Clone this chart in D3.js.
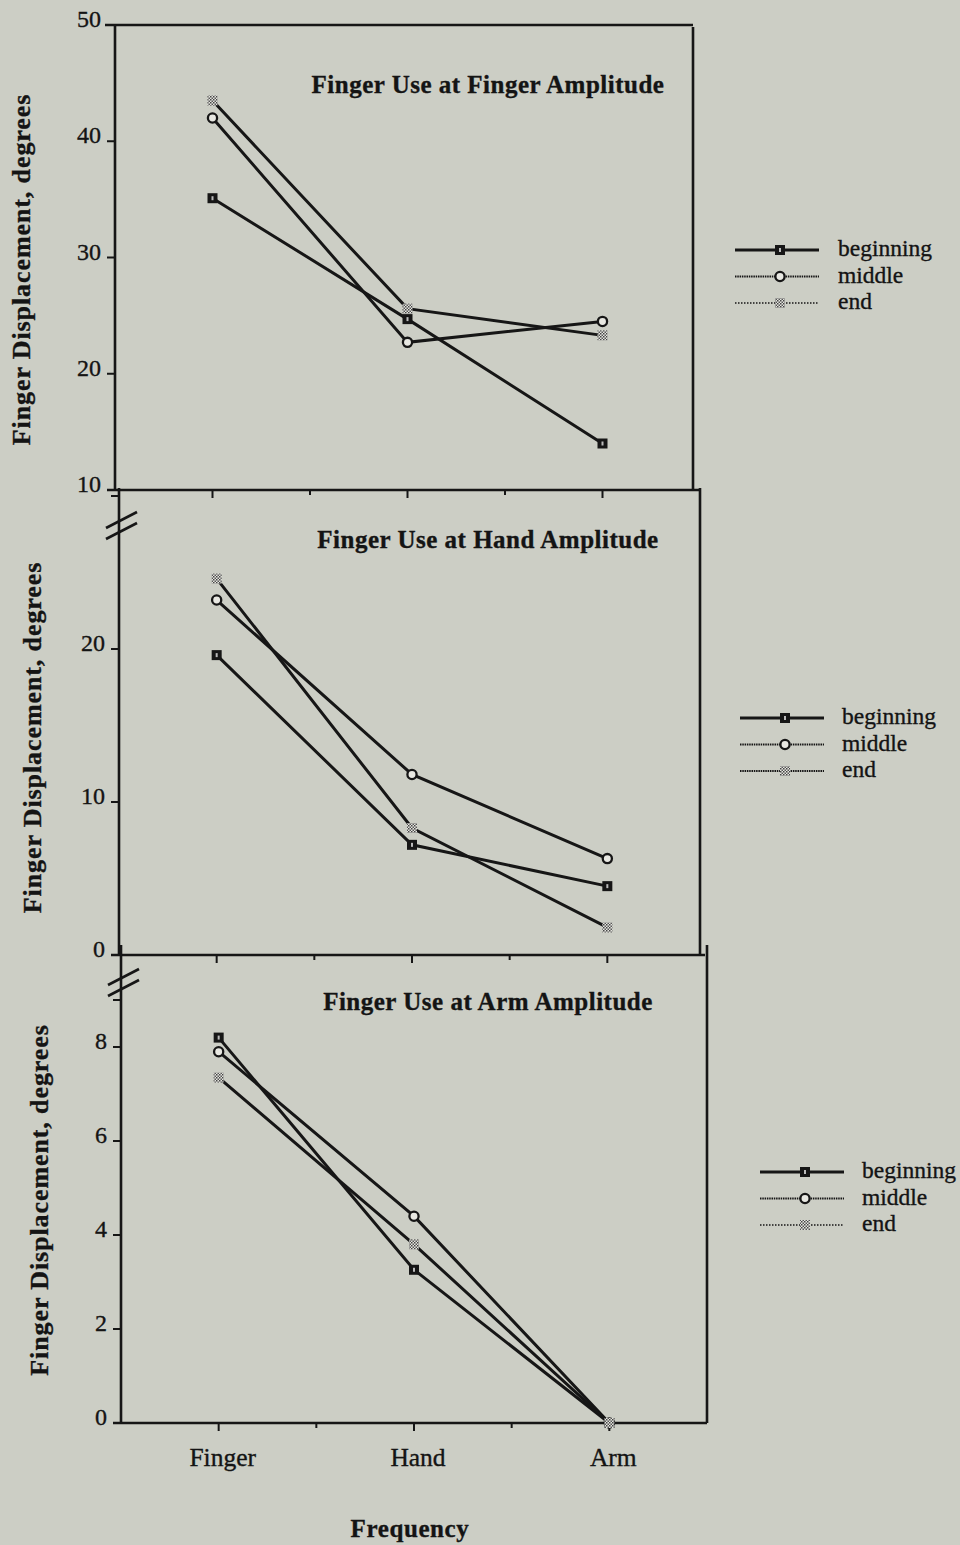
<!DOCTYPE html>
<html>
<head>
<meta charset="utf-8">
<script src="https://cdn.jsdelivr.net/npm/d3@7"></script>
<style>
  body { margin: 0; background: #cccec5; }
  svg text { font-family: "Liberation Serif", "Times New Roman", serif; fill: #141414; stroke: #141414; stroke-width: 0.35px; }
  .tick-label { font-size: 24px; }
  .x-label { font-size: 25.5px; }
  .title { font-size: 25px; font-weight: bold; letter-spacing: 0.5px; }
  .ylabel { font-size: 26px; font-weight: bold; letter-spacing: 0.9px; }
  .legend-text { font-size: 23.5px; }
</style>
</head>
<body>
<svg id="chart" width="960" height="1545"></svg>
<script>
"use strict";

// x categories (movement frequency)
var categories = ["Finger", "Hand", "Arm"];
var seriesNames = ["beginning", "middle", "end"];

// finger displacement, degrees
var fingerAmp = {
  beginning: [35.1, 24.7, 14.0],
  middle: [42.0, 22.7, 24.5],
  end: [43.5, 25.6, 23.3]
};
var handAmp = {
  beginning: [19.6, 7.2, 4.5],
  middle: [23.2, 11.8, 6.3],
  end: [24.6, 8.3, 1.8]
};
var armAmp = {
  beginning: [8.2, 3.26, 0],
  middle: [7.9, 4.4, 0],
  end: [7.35, 3.8, 0]
};

var ticksFinger = [10, 20, 30, 40, 50];
var ticksHand = [0, 10, 20, 30];
var ticksArm = [0, 2, 4, 6, 8, 9];

var panels = [{
  title: "Finger Use at Finger Amplitude",
  data: fingerAmp,
  domain: [10, 50],
  yRange: [490, 25],
  xRange: [115, 700],
  right: 693,
  ticks: ticksFinger,
  labelled: [10, 20, 30, 40, 50],
  top: true,
  brk: false,
  titleY: 93,
  ylabelX: 30,
  legend: { x: 735, y: 250, text: 838, endStyle: "dot" },
  showX: false
}, {
  title: "Finger Use at Hand Amplitude",
  data: handAmp,
  domain: [0, 30],
  yRange: [955, 496],
  xRange: [119, 705],
  right: 700,
  ticks: ticksHand,
  labelled: [0, 10, 20],
  top: false,
  brk: true,
  titleY: 548,
  ylabelX: 41,
  legend: { x: 740, y: 718, text: 842, endStyle: "wave" },
  showX: false
}, {
  title: "Finger Use at Arm Amplitude",
  data: armAmp,
  domain: [0, 10],
  yRange: [1423, 953],
  xRange: [121, 707],
  right: 707,
  ticks: ticksArm,
  labelled: [0, 2, 4, 6, 8],
  top: false,
  brk: true,
  titleY: 1010,
  ylabelX: 48,
  legend: { x: 760, y: 1172, text: 862, endStyle: "dot" },
  showX: true
}];

var svg = d3.select("#chart");
var ink = "#161616";

// hatched fill used by the "end" marker
var defs = svg.append("defs");
var pat = defs.append("pattern")
  .attr("id", "hatch")
  .attr("width", 3).attr("height", 3)
  .attr("patternUnits", "userSpaceOnUse");
pat.append("rect").attr("width", 3).attr("height", 3).attr("fill", "#e6e6e0");
pat.append("rect").attr("width", 1.5).attr("height", 1.5).attr("fill", "#444");
pat.append("rect").attr("x", 1.5).attr("y", 1.5).attr("width", 1.5).attr("height", 1.5).attr("fill", "#555");

function drawMarker(g, name, cx, cy) {
  if (name === "beginning") {
    g.append("rect")
      .attr("x", cx - 5).attr("y", cy - 5)
      .attr("width", 10).attr("height", 10)
      .attr("fill", ink);
    g.append("rect")
      .attr("x", cx - 1).attr("y", cy - 2)
      .attr("width", 2).attr("height", 4)
      .attr("fill", "#bbb");
  } else if (name === "middle") {
    g.append("circle")
      .attr("cx", cx).attr("cy", cy).attr("r", 4.6)
      .attr("fill", "#e8e8e2")
      .attr("stroke", ink).attr("stroke-width", 2.3);
  } else {
    g.append("rect")
      .attr("x", cx - 5).attr("y", cy - 5)
      .attr("width", 10).attr("height", 10)
      .attr("fill", "url(#hatch)");
  }
}

panels.forEach(function(p) {
  var g = svg.append("g");

  var x = d3.scaleBand().domain(categories).range(p.xRange);
  var y = d3.scaleLinear().domain(p.domain).range(p.yRange);
  var cx = function(c) { return x(c) + x.bandwidth() / 2; };

  var left = p.xRange[0];
  var y0 = y(p.domain[0]);
  var yTop = p.yRange[1];

  // frame: left axis, bottom axis, right edge, top for the first panel
  g.append("line")
    .attr("x1", left).attr("x2", left)
    .attr("y1", p.top ? yTop : yTop - 8).attr("y2", y0)
    .attr("stroke", ink).attr("stroke-width", 2.6);
  g.append("line")
    .attr("x1", left - 8).attr("x2", p.xRange[1])
    .attr("y1", y0).attr("y2", y0)
    .attr("stroke", ink).attr("stroke-width", 2.6);
  g.append("line")
    .attr("x1", p.right).attr("x2", p.right)
    .attr("y1", p.top ? yTop + 2 : yTop - 8).attr("y2", y0)
    .attr("stroke", ink).attr("stroke-width", 2.6);
  if (p.top) {
    g.append("line")
      .attr("x1", left - 10).attr("x2", p.right)
      .attr("y1", yTop).attr("y2", yTop)
      .attr("stroke", ink).attr("stroke-width", 2.6);
  }

  // y ticks
  p.ticks.forEach(function(t) {
    g.append("line")
      .attr("x1", left - 8).attr("x2", left)
      .attr("y1", y(t)).attr("y2", y(t))
      .attr("stroke", ink).attr("stroke-width", 2);
    if (p.labelled.indexOf(t) >= 0) {
      g.append("text")
        .attr("class", "tick-label")
        .attr("x", left - 14).attr("y", y(t) + 2)
        .attr("text-anchor", "end")
        .text(t);
    }
  });

  // x ticks: long at the categories, short at band edges
  categories.forEach(function(c) {
    g.append("line")
      .attr("x1", cx(c)).attr("x2", cx(c))
      .attr("y1", y0).attr("y2", y0 + 8)
      .attr("stroke", ink).attr("stroke-width", 2);
  });
  categories.slice(1).forEach(function(c) {
    g.append("line")
      .attr("x1", x(c)).attr("x2", x(c))
      .attr("y1", y0).attr("y2", y0 + 5)
      .attr("stroke", ink).attr("stroke-width", 2);
  });

  if (p.showX) {
    categories.forEach(function(c) {
      g.append("text")
        .attr("class", "x-label")
        .attr("x", cx(c) + 4).attr("y", y0 + 43)
        .attr("text-anchor", "middle")
        .text(c);
    });
  }

  // axis break marks
  if (p.brk) {
    [0, 11].forEach(function(d) {
      g.append("line")
        .attr("x1", left - 13).attr("y1", yTop + 32 + d)
        .attr("x2", left + 18).attr("y2", yTop + 16 + d)
        .attr("stroke", ink).attr("stroke-width", 2.6);
    });
  }

  g.append("text")
    .attr("class", "title")
    .attr("x", 488).attr("y", p.titleY)
    .attr("text-anchor", "middle")
    .text(p.title);

  g.append("text")
    .attr("class", "ylabel")
    .attr("transform", "translate(" + p.ylabelX + "," + ((yTop + y0) / 2 + 12) + ") rotate(-90)")
    .attr("text-anchor", "middle")
    .text("Finger Displacement, degrees");

  // series lines
  var line = d3.line()
    .x(function(d, i) { return cx(categories[i]); })
    .y(function(d) { return y(d); });

  seriesNames.forEach(function(name) {
    g.append("path")
      .datum(p.data[name])
      .attr("d", line)
      .attr("fill", "none")
      .attr("stroke", ink)
      .attr("stroke-width", 3);
  });
  seriesNames.forEach(function(name) {
    p.data[name].forEach(function(v, i) {
      drawMarker(g, name, cx(categories[i]), y(v));
    });
  });

  // legend
  var lg = g.append("g");
  seriesNames.forEach(function(name, i) {
    var ly = p.legend.y + i * 26.5;
    var l = lg.append("line")
      .attr("x1", p.legend.x).attr("x2", p.legend.x + 84)
      .attr("y1", ly).attr("y2", ly)
      .attr("stroke", ink);
    if (name === "beginning") {
      l.attr("stroke-width", 2.8);
    } else if (name === "middle" || p.legend.endStyle === "wave") {
      l.attr("stroke-width", 2.2).attr("stroke-dasharray", "1.5,0.8");
    } else {
      l.attr("stroke-width", 1.6).attr("stroke-dasharray", "1.5,1.5");
    }
    drawMarker(lg, name, p.legend.x + 45, ly);
    lg.append("text")
      .attr("class", "legend-text")
      .attr("x", p.legend.text).attr("y", ly + 6)
      .text(name);
  });
});

svg.append("text")
  .attr("x", 410).attr("y", 1537)
  .attr("text-anchor", "middle")
  .style("font-size", "25px")
  .style("font-weight", "bold")
  .style("letter-spacing", "0.6px")
  .text("Frequency");
</script>
</body>
</html>
